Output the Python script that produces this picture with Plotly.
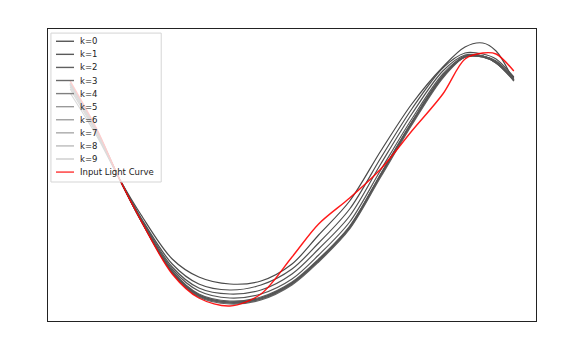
import plotly.graph_objects as go

# phase (percent) and normalized flux
phase = [0, 6, 11, 16, 23, 29, 36, 43, 50, 56, 63, 70, 77, 84, 89, 93, 96, 100]

input_curve = [2.30, 1.82, 1.33, 0.90, 0.37, 0.13, 0.05, 0.17, 0.54, 0.87, 1.13, 1.42, 1.80, 2.17, 2.52, 2.58, 2.57, 2.40]

k0 = [2.18, 1.75, 1.33, 0.96, 0.52, 0.34, 0.27, 0.30, 0.47, 0.76, 1.10, 1.60, 2.07, 2.44, 2.64, 2.68, 2.60, 2.30]
k1 = [2.22, 1.77, 1.33, 0.93, 0.47, 0.27, 0.21, 0.26, 0.42, 0.68, 1.02, 1.53, 2.02, 2.43, 2.58, 2.57, 2.52, 2.34]
k2 = [2.24, 1.78, 1.33, 0.92, 0.44, 0.23, 0.17, 0.21, 0.37, 0.62, 0.95, 1.47, 1.97, 2.40, 2.56, 2.55, 2.50, 2.33]
k3 = [2.26, 1.79, 1.33, 0.91, 0.42, 0.20, 0.13, 0.17, 0.32, 0.56, 0.89, 1.41, 1.92, 2.37, 2.55, 2.55, 2.49, 2.32]
k4 = [2.27, 1.80, 1.33, 0.91, 0.40, 0.17, 0.10, 0.14, 0.29, 0.52, 0.85, 1.37, 1.89, 2.35, 2.54, 2.54, 2.48, 2.31]
k5 = [2.28, 1.81, 1.33, 0.90, 0.39, 0.15, 0.08, 0.12, 0.27, 0.50, 0.83, 1.35, 1.87, 2.34, 2.54, 2.54, 2.48, 2.30]
k6 = [2.28, 1.81, 1.33, 0.90, 0.38, 0.14, 0.07, 0.11, 0.26, 0.49, 0.82, 1.34, 1.86, 2.33, 2.54, 2.55, 2.49, 2.31]
k7 = [2.27, 1.80, 1.33, 0.90, 0.39, 0.15, 0.08, 0.12, 0.27, 0.50, 0.83, 1.36, 1.88, 2.34, 2.55, 2.55, 2.49, 2.31]
k8 = [2.26, 1.80, 1.33, 0.91, 0.40, 0.16, 0.09, 0.13, 0.28, 0.51, 0.84, 1.36, 1.88, 2.35, 2.55, 2.55, 2.49, 2.31]
k9 = [2.27, 1.80, 1.33, 0.90, 0.39, 0.16, 0.09, 0.13, 0.28, 0.51, 0.84, 1.37, 1.89, 2.35, 2.54, 2.54, 2.48, 2.31]

reconstructions = [k0, k1, k2, k3, k4, k5, k6, k7, k8, k9]
labels = [f"k={i}" for i in range(10)] + ["Input Light Curve"]

line_colors = ["#4a4a4a", "#4e4e4e", "#525252", "#565656", "#5a5a5a",
               "#5e5e5e", "#626262", "#5c5c5c", "#585858", "#545454"]
legend_colors = ["#555555", "#5a5a5a", "#606060", "#6a6a6a", "#808080",
                 "#999999", "#a0a0a0", "#aaaaaa", "#bbbbbb", "#cccccc", "rgba(255,0,0,0.8)"]

fig = go.Figure()

for rec, col, lab in zip(reconstructions, line_colors, labels):
    fig.add_trace(go.Scatter(x=phase, y=rec, mode="lines", name=lab, showlegend=False,
                             line=dict(color=col, width=1.2, shape="spline", smoothing=0.9)))

fig.add_trace(go.Scatter(x=phase, y=input_curve, mode="lines", name="Input Light Curve",
                         showlegend=False,
                         line=dict(color="rgba(255,0,0,0.9)", width=1.4, shape="spline", smoothing=0.9)))

# matplotlib-like compact legend (plotly's own rows are too tall)
shapes = [dict(type="rect", xref="paper", yref="paper", x0=0.006, x1=0.232, y0=0.476, y1=0.986,
               fillcolor="rgba(255,255,255,0.8)", line=dict(color="#d5d5d5", width=1), layer="above")]
annotations = []
row_top, row_step = 0.958, 0.0448
for i, (lab, col) in enumerate(zip(labels, legend_colors)):
    yy = row_top - i * row_step
    shapes.append(dict(type="line", xref="paper", yref="paper", x0=0.0164, x1=0.0533, y0=yy, y1=yy,
                       line=dict(color=col, width=1.4), layer="above"))
    annotations.append(dict(xref="paper", yref="paper", x=0.062, y=yy, text=lab, showarrow=False,
                            xanchor="left", yanchor="middle", font=dict(size=8.5, color="#222")))

axis_style = dict(showline=True, mirror=True, linecolor="#222", linewidth=1,
                  showgrid=False, zeroline=False, showticklabels=False, ticks="")

fig.update_layout(
    width=574, height=347,
    margin=dict(l=40, r=46, t=21, b=34),
    paper_bgcolor="white", plot_bgcolor="white",
    font=dict(family="DejaVu Sans", size=9, color="#222"),
    xaxis=dict(range=[-5, 105], **axis_style),
    yaxis=dict(range=[-0.10, 2.82], **axis_style),
    showlegend=False,
    shapes=shapes,
    annotations=annotations,
)

fig.write_html("out.html")
